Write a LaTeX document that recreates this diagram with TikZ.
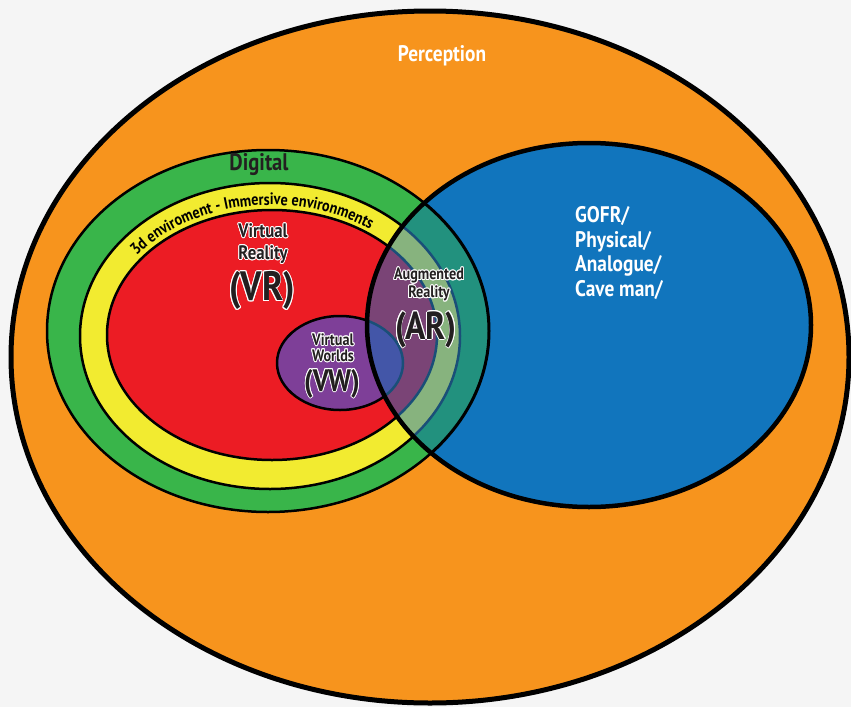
\documentclass[tikz,border=0pt]{standalone}
\usepackage{fontspec}
\usepackage{contour}
\usetikzlibrary{decorations.text}
\newfontfamily\cond{PT Sans}[FakeStretch=0.86]
\contourlength{0.9pt}
\contournumber{12}
\definecolor{bg}{HTML}{F5F5F5}
\definecolor{orng}{HTML}{F7941D}
\definecolor{grn}{HTML}{39B54A}
\definecolor{ylw}{HTML}{F2EB30}
\definecolor{rd}{HTML}{EC1C24}
\definecolor{prp}{HTML}{7E3F98}
\definecolor{blu}{HTML}{1175BD}
\definecolor{tealmix}{HTML}{22917E}
\definecolor{ltgrnmix}{HTML}{87B37E}
\definecolor{mauvemix}{HTML}{7A4476}
\definecolor{violmix}{HTML}{4356A8}
\definecolor{edgemix}{HTML}{1A4F78}
\definecolor{ink}{HTML}{231F20}
\definecolor{diginк}{HTML}{1B2E1D}
\begin{document}
\begin{tikzpicture}[x=1pt,y=-1pt,
  ring/.style={draw=black, line width=2.5},
  lbl/.style={font=\cond\bfseries, text=ink, align=center, inner sep=0pt},
  wlbl/.style={font=\cond\bfseries, text=white, align=left, inner sep=0pt}]
\path[fill=bg] (0,0) rectangle (851,707);
\useasboundingbox (0,0) rectangle (851,707);
\coordinate (cO) at (430,357);
\coordinate (cG) at (268,331);
\coordinate (cY) at (270,336);
\coordinate (cR) at (272,335);
\coordinate (cP) at (340,363);
\coordinate (cB) at (589,325);
\coordinate (cT) at (271,336);
% outer perception
\draw[fill=orng, line width=5] (cO) ellipse [x radius=419, y radius=346];
% digital rings
\draw[ring, fill=grn] (cG) ellipse [x radius=221, y radius=181];
\draw[ring, fill=ylw] (cY) ellipse [x radius=190, y radius=153];
\draw[ring, fill=rd] (cR) ellipse [x radius=165, y radius=125];
\draw[ring, fill=prp] (cP) ellipse [x radius=63, y radius=47];
% physical
\fill[blu] (cB) ellipse [x radius=222, y radius=182];
\begin{scope}
  \clip (cB) ellipse [x radius=222, y radius=182];
  \fill[tealmix] (cG) ellipse [x radius=221, y radius=181];
  \fill[ltgrnmix] (cY) ellipse [x radius=190, y radius=153];
  \fill[mauvemix] (cR) ellipse [x radius=165, y radius=125];
  \fill[violmix] (cP) ellipse [x radius=63, y radius=47];
  \draw[edgemix, line width=2.5] (cY) ellipse [x radius=190, y radius=153];
  \draw[edgemix, line width=2.5] (cR) ellipse [x radius=165, y radius=125];
  \draw[edgemix, line width=2.5] (cP) ellipse [x radius=63, y radius=47];
  \draw[black, line width=3] (cG) ellipse [x radius=221, y radius=181];
\end{scope}
\draw[black, line width=4.5] (cB) ellipse [x radius=222, y radius=182];
% curved text
\path[decorate, decoration={text along path, text align=center,
  text={|\cond\bfseries\fontsize{16.5}{16.5}\selectfont|3d enviroment - Immersive environments}}]
  (cT) ++(198:170 and 131) arc [start angle=198, end angle=324, x radius=170, y radius=131];
% labels
\node[wlbl, font=\cond\bfseries\fontsize{22.5}{22.5}\selectfont] (perc) at (442,56) {Perception};
\node[lbl, text=ink, font=\cond\bfseries\fontsize{24}{24}\selectfont] (dig) at (259,165) {Digital};
\node[lbl, font=\cond\bfseries\fontsize{19.5}{22}\selectfont] (vrt) at (263,244)
  {\contour{white}{Virtual}\\\contour{white}{Reality}};
\node[lbl, font=\cond\bfseries\fontsize{41}{41}\selectfont] (vr) at (262,291) {\contour{white}{(VR)}};
\node[lbl, font=\cond\bfseries\fontsize{16.5}{18}\selectfont] (art) at (429,285)
  {\contour{white}{Augmented}\\\contour{white}{Reality}};
\node[lbl, font=\cond\bfseries\fontsize{39}{39}\selectfont] (ar) at (426,330) {\contour{white}{(AR)}};
\node[lbl, font=\cond\bfseries\fontsize{16.5}{16}\selectfont] (vwt) at (333,348)
  {\contour{white}{Virtual}\\\contour{white}{Worlds}};
\node[lbl, font=\cond\bfseries\fontsize{31}{31}\selectfont] (vw) at (332,384) {\contour{white}{(VW)}};
\node[wlbl, anchor=west, font=\cond\bfseries\fontsize{22.5}{24.5}\selectfont] (gofr) at (575,253)
  {GOFR/\\Physical/\\Analogue/\\Cave man/};
\end{tikzpicture}
\end{document}
